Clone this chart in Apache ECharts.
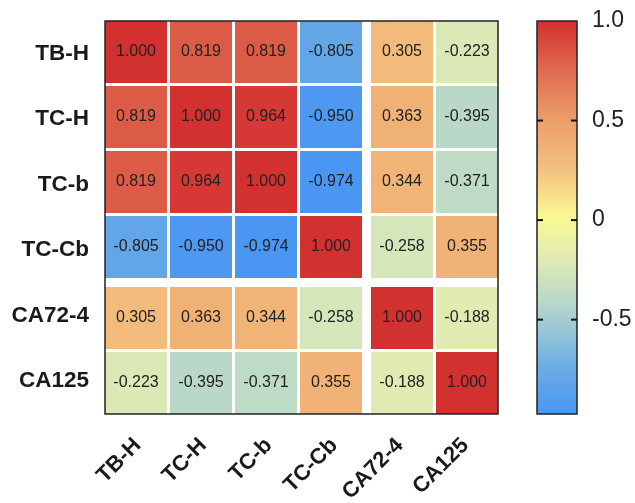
<!DOCTYPE html>
<html>
<head>
<meta charset="utf-8">
<style>
  html, body { margin: 0; padding: 0; background: #ffffff; }
  #chart { width: 635px; height: 503px; }
</style>
<script src="https://cdn.jsdelivr.net/npm/echarts@6/dist/echarts.min.js"></script>
</head>
<body>
<div id="chart"></div>
<script>
const rowNames = ['TB-H', 'TC-H', 'TC-b', 'TC-Cb', 'CA72-4', 'CA125'];
const colNames = ['TB-H', 'TC-H', 'TC-b', 'TC-Cb', 'CA72-4', 'CA125'];
const corr = [
  [1.000, 0.819, 0.819, -0.805, 0.305, -0.223],
  [0.819, 1.000, 0.964, -0.950, 0.363, -0.395],
  [0.819, 0.964, 1.000, -0.974, 0.344, -0.371],
  [-0.805, -0.950, -0.974, 1.000, -0.258, 0.355],
  [0.305, 0.363, 0.344, -0.258, 1.000, -0.188],
  [-0.223, -0.395, -0.371, 0.355, -0.188, 1.000]
];
const colorMin = -0.974;
const colorMax = 1.0;
const colorTicks = [-0.5, 0, 0.5, 1.0];
const colorTickLabels = ['-0.5', '0', '0.5', '1.0'];
const palette = ['#4a96f3', '#6eaee2', '#a9d0cf', '#d9e8b8', '#fbf894', '#f3c07f', '#eb9d68', '#df6a4f', '#d33030'];

const data = [];
corr.forEach((row, j) => row.forEach((v, i) => data.push([i, j, v])));

const FONT = '"Liberation Sans", Arial, sans-serif';
const GAP = 3, BIG = 9, SPLIT = 4;

function renderItem(params, api) {
  const i = api.value(0), j = api.value(1), v = api.value(2);
  const c = api.coord([i, j]);
  const band = api.size([1, 1]);
  const gx = c[0] - band[0] * (i + 0.5);
  const gy = c[1] - band[1] * (j + 0.5);
  const cw = (band[0] * 6 - 4 * GAP - BIG) / 6;
  const ch = (band[1] * 6 - 4 * GAP - BIG) / 6;
  const x = gx + i * (cw + GAP) + (i >= SPLIT ? BIG - GAP : 0);
  const y = gy + j * (ch + GAP) + (j >= SPLIT ? BIG - GAP : 0);
  return {
    type: 'group',
    children: [
      { type: 'rect', shape: { x: x, y: y, width: cw, height: ch }, style: { fill: api.visual('color') } },
      { type: 'text', style: { text: v.toFixed(3), x: x + cw / 2, y: y + ch / 2, align: 'center', verticalAlign: 'middle',
        font: '16px ' + FONT, fill: '#222' } }
    ]
  };
}

function renderTick(params, api) {
  const v = api.value(0);
  const l = api.coord([0, v]);
  const r = api.coord([1, v]);
  const len = 6;
  const ls = { stroke: '#111', lineWidth: 2 };
  return {
    type: 'group',
    children: [
      { type: 'line', shape: { x1: l[0], y1: l[1], x2: l[0] + len, y2: l[1] }, style: ls },
      { type: 'line', shape: { x1: r[0] - len, y1: r[1], x2: r[0], y2: r[1] }, style: ls }
    ]
  };
}

const chart = echarts.init(document.getElementById('chart'), null, { renderer: 'canvas' });
chart.setOption({
  backgroundColor: '#ffffff',
  animation: false,
  grid: [
    { left: 105, top: 21, width: 393, height: 393, outerBoundsMode: 'none', containLabel: false, show: true, backgroundColor: 'transparent', borderColor: '#222', borderWidth: 1.5, z: 10 },
    { left: 537, top: 21, width: 40, height: 393, outerBoundsMode: 'none', containLabel: false, show: true, backgroundColor: 'transparent', borderColor: '#222', borderWidth: 1.5, z: 10 }
  ],
  xAxis: [
    { type: 'category', data: colNames, gridIndex: 0, position: 'bottom',
      axisLine: { show: false }, axisTick: { show: false }, splitLine: { show: false },
      axisLabel: { rotate: 45, margin: 28, fontSize: 22, fontWeight: 'bold', color: '#1a1a1a', fontFamily: FONT, interval: 0 } },
    { type: 'value', gridIndex: 1, show: false, min: 0, max: 1 }
  ],
  yAxis: [
    { type: 'category', data: rowNames, gridIndex: 0, inverse: true,
      axisLine: { show: false }, axisTick: { show: false }, splitLine: { show: false },
      axisLabel: { margin: 16, fontSize: 22.5, fontWeight: 'bold', color: '#1a1a1a', fontFamily: FONT, interval: 0 } },
    { type: 'value', gridIndex: 1, position: 'right', min: colorMin, max: colorMax,
      axisLine: { show: false }, splitLine: { show: false }, axisTick: { show: false },
      axisLabel: { customValues: colorTicks, margin: 15, fontSize: 23, color: '#222', fontFamily: FONT,
        formatter: function (val) { const k = colorTicks.indexOf(val); return k >= 0 ? colorTickLabels[k] : ''; } } }
  ],
  visualMap: {
    type: 'continuous', min: colorMin, max: colorMax, dimension: 2, seriesIndex: 0, z: 1,
    calculable: false, orient: 'vertical', left: 537, top: 21, itemWidth: 40, itemHeight: 393,
    padding: 0, text: null, showLabel: false, hoverLink: false,
    inRange: { color: palette }
  },
  series: [
    { type: 'custom', xAxisIndex: 0, yAxisIndex: 0, renderItem: renderItem, data: data, encode: { x: 0, y: 1 } },
    { type: 'custom', xAxisIndex: 1, yAxisIndex: 1, renderItem: renderTick, z: 20,
      data: colorTicks.filter(v => v < colorMax).map(v => [v]), encode: { y: 0 } }
  ]
});
</script>
</body>
</html>
